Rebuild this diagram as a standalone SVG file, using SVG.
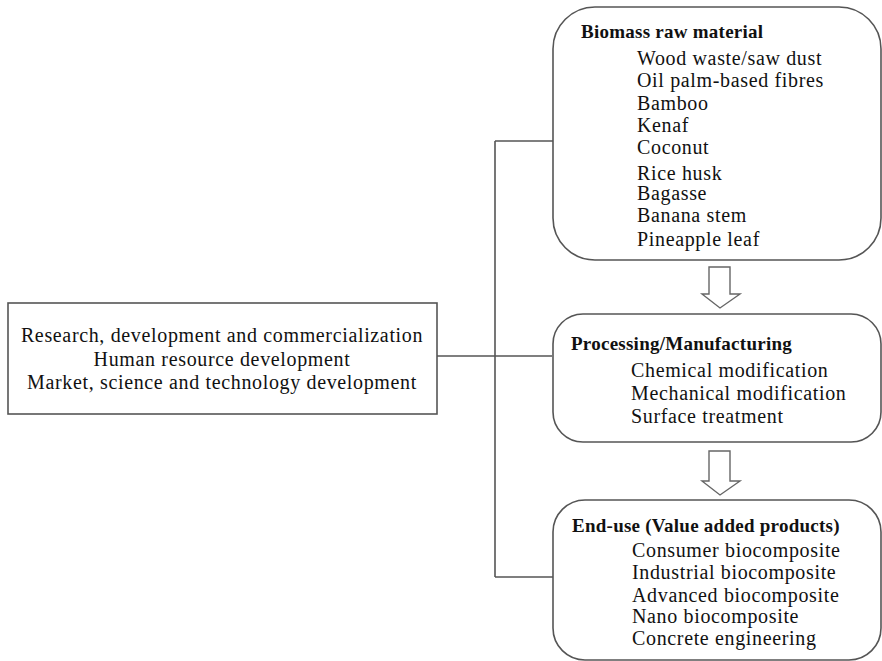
<svg xmlns="http://www.w3.org/2000/svg" width="882" height="661" viewBox="0 0 882 661">
<style>
.box{fill:#fff;stroke:#555;stroke-width:1.6}
.ln{fill:none;stroke:#555;stroke-width:1.6}
.arr{fill:#fff;stroke:#666;stroke-width:1.4}
text{font-family:"Liberation Serif","Times New Roman",serif;font-size:20px;letter-spacing:0.65px;fill:#111}
.t{font-weight:bold;font-size:19px;letter-spacing:0.25px}
</style>
<rect width="882" height="661" fill="#fff"/>
<g id="connectors">
<path class="ln" d="M437,356 H552 M495,141 V577 M495,141 H553 M495,577 H553"/>
</g>
<g id="left">
<rect class="box" x="8" y="303" width="429" height="111"/>
<text x="222" y="342" text-anchor="middle">Research, development and commercialization</text>
<text x="222" y="366" text-anchor="middle">Human resource development</text>
<text x="222" y="389" text-anchor="middle">Market, science and technology development</text>
</g>
<g id="raw">
<rect class="box" x="553" y="7" width="328" height="253" rx="42" ry="42"/>
<text class="t" x="581" y="38">Biomass raw material</text>
<text x="637" y="65">Wood waste/saw dust</text>
<text x="637" y="87">Oil palm-based fibres</text>
<text x="637" y="110">Bamboo</text>
<text x="637" y="132">Kenaf</text>
<text x="637" y="154">Coconut</text>
<text x="637" y="180">Rice husk</text>
<text x="637" y="200">Bagasse</text>
<text x="637" y="222">Banana stem</text>
<text x="637" y="246">Pineapple leaf</text>
</g>
<g id="arrow1">
<path class="arr" d="M709,267 H730 V294 H740 L720,308 L702,294 H709 Z"/>
</g>
<g id="processing">
<rect class="box" x="553" y="314" width="328" height="128" rx="30" ry="30"/>
<text class="t" x="571" y="350">Processing/Manufacturing</text>
<text x="631" y="377">Chemical modification</text>
<text x="631" y="400">Mechanical modification</text>
<text x="631" y="423">Surface treatment</text>
</g>
<g id="arrow2">
<path class="arr" d="M709,451 H730 V481 H740 L720,495 L702,481 H709 Z"/>
</g>
<g id="enduse">
<rect class="box" x="553" y="500" width="328" height="160" rx="32" ry="32"/>
<text class="t" x="572" y="532">End-use (Value added products)</text>
<text x="632" y="557">Consumer biocomposite</text>
<text x="632" y="579">Industrial biocomposite</text>
<text x="632" y="602">Advanced biocomposite</text>
<text x="632" y="623">Nano biocomposite</text>
<text x="632" y="645">Concrete engineering</text>
</g>
</svg>
